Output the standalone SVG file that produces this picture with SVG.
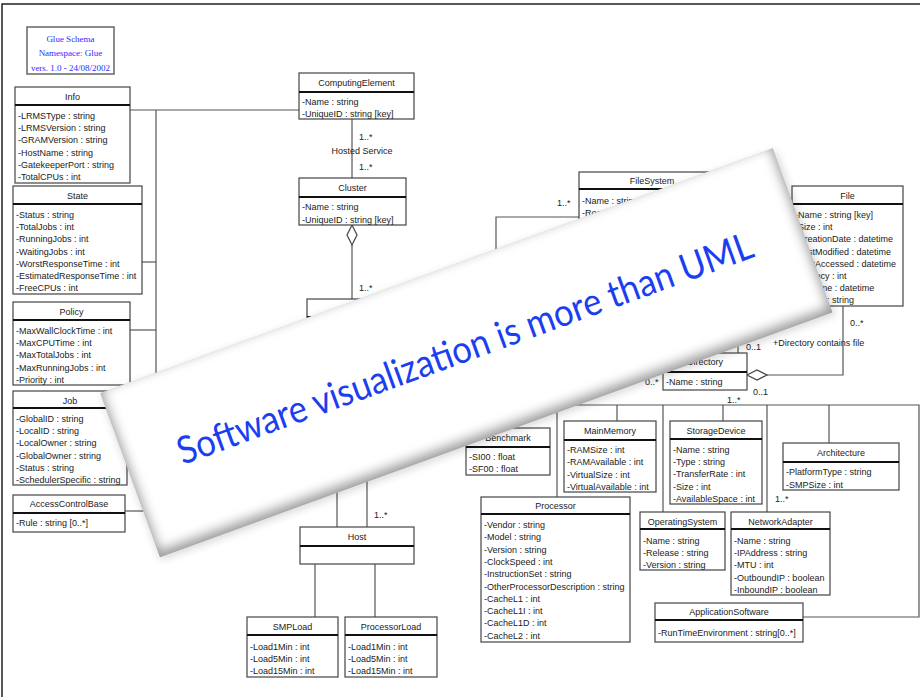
<svg xmlns="http://www.w3.org/2000/svg" width="920" height="697" viewBox="0 0 920 697">
  <defs>
    <style>
      .box { fill: #fff; stroke: #444; stroke-width: 1.2; }
      .hdr { stroke: #111; stroke-width: 2; }
      .t { font-family: "Liberation Sans", Arial, sans-serif; font-size: 9px; fill: #222; }
      .c { text-anchor: middle; }
      .ln { fill: none; stroke: #555; stroke-width: 1.2; }
      .dia { fill: #fff; stroke: #444; stroke-width: 1.2; }
      .glue { font-family: "Liberation Serif", "Times New Roman", serif; font-size: 9px; fill: #2b2bff; text-anchor: middle; }
      .banner-text { font-family: Lato, "Open Sans", "Noto Sans", sans-serif; font-size: 38px; fill: #1b3ef0; }
    </style>
    <clipPath id="bannerClip">
      <rect x="0" y="0" width="716" height="175"/>
    </clipPath>
    <filter id="soft" x="-10%" y="-30%" width="120%" height="160%">
      <feGaussianBlur stdDeviation="6"/>
    </filter>
    <filter id="outer" x="-10%" y="-30%" width="120%" height="160%">
      <feGaussianBlur stdDeviation="4"/>
    </filter>
  </defs>

  <rect x="0" y="0" width="920" height="697" fill="#fff"/>
  <!-- page frame -->
  <path d="M2,697 V4 H920" fill="none" stroke="#222" stroke-width="1.5"/>

  <!-- title block -->
  <g id="glue-title">
    <rect x="27" y="27" width="87" height="47" fill="#fff" stroke="#666" stroke-width="1.5"/>
    <text class="glue" x="70.5" y="42">Glue Schema</text>
    <text class="glue" x="70.5" y="56">Namespace: Glue</text>
    <text class="glue" x="70.5" y="71">vers. 1.0 - 24/08/2002</text>
  </g>

  <!-- associations -->
  <g id="connectors">
    <path class="ln" d="M130,110 H299"/>
    <path class="ln" d="M156,110 V511"/>
    <path class="ln" d="M142,262 H156"/>
    <path class="ln" d="M130,330 H156"/>
    <path class="ln" d="M127,438 H156"/>
    <path class="ln" d="M125,511 H156"/>
    <path class="ln" d="M352,119 V178"/>
    <path class="ln" d="M352,245 V299"/>
    <path class="dia" d="M352,225 L357,235 L352,245 L347,235 Z"/>
    <path class="ln" d="M337,420 V527"/>
    <path class="ln" d="M367,420 V527"/>
    <path class="ln" d="M315,564 V617"/>
    <path class="ln" d="M375,564 V617"/>
    <path class="ln" d="M579,217 H496 V405 H919 V617 H803"/>
    <path class="ln" d="M508,405 V428"/>
    <path class="ln" d="M557,405 V497"/>
    <path class="ln" d="M617,405 V421"/>
    <path class="ln" d="M663,405 V512"/>
    <path class="ln" d="M723,405 V421"/>
    <path class="ln" d="M767,405 V512"/>
    <path class="ln" d="M829,405 V443"/>
    <path class="ln" d="M738,300 V353"/>
    <path class="ln" d="M767,375 H843 V306"/>
    <path class="dia" d="M747,375 L757,370 L767,375 L757,380 Z"/>

    <text class="t" x="359" y="140">1..*</text>
    <text class="t c" x="362" y="154">Hosted Service</text>
    <text class="t" x="359" y="170">1..*</text>
    <text class="t" x="359" y="291">1..*</text>
    <text class="t" x="557" y="206">1..*</text>
    <text class="t" x="374" y="518">1..*</text>
    <text class="t" x="746" y="350">0..1</text>
    <text class="t" x="773" y="346">+Directory contains file</text>
    <text class="t" x="850" y="326">0..*</text>
    <text class="t" x="645" y="385">0..*</text>
    <text class="t" x="753" y="395">0..1</text>
    <text class="t" x="727" y="403">1..*</text>
    <text class="t" x="775" y="502">1..*</text>
  </g>

  <g id="info">
    <rect class="box" x="15" y="87" width="115" height="96"/>
    <line class="hdr" x1="15" y1="105" x2="130" y2="105"/>
    <text class="t c" x="72.5" y="100">Info</text>
    <text class="t" x="18" y="119">-LRMSType : string</text>
    <text class="t" x="18" y="131.2">-LRMSVersion : string</text>
    <text class="t" x="18" y="143.4">-GRAMVersion : string</text>
    <text class="t" x="18" y="155.6">-HostName : string</text>
    <text class="t" x="18" y="167.8">-GatekeeperPort : string</text>
    <text class="t" x="18" y="180">-TotalCPUs : int</text>
  </g>

  <g id="state">
    <rect class="box" x="13" y="186" width="129" height="108"/>
    <line class="hdr" x1="13" y1="204" x2="142" y2="204"/>
    <text class="t c" x="77.5" y="199">State</text>
    <text class="t" x="16" y="218">-Status : string</text>
    <text class="t" x="16" y="230.2">-TotalJobs : int</text>
    <text class="t" x="16" y="242.4">-RunningJobs : int</text>
    <text class="t" x="16" y="254.6">-WaitingJobs : int</text>
    <text class="t" x="16" y="266.8">-WorstResponseTime : int</text>
    <text class="t" x="16" y="279">-EstimatedResponseTime : int</text>
    <text class="t" x="16" y="291.2">-FreeCPUs : int</text>
  </g>

  <g id="policy">
    <rect class="box" x="13" y="302" width="117" height="83"/>
    <line class="hdr" x1="13" y1="320" x2="130" y2="320"/>
    <text class="t c" x="71.5" y="315">Policy</text>
    <text class="t" x="16" y="334">-MaxWallClockTime : int</text>
    <text class="t" x="16" y="346.2">-MaxCPUTime : int</text>
    <text class="t" x="16" y="358.4">-MaxTotalJobs : int</text>
    <text class="t" x="16" y="370.6">-MaxRunningJobs : int</text>
    <text class="t" x="16" y="382.8">-Priority : int</text>
  </g>

  <g id="job">
    <rect class="box" x="13" y="391" width="114" height="94"/>
    <line class="hdr" x1="13" y1="408" x2="127" y2="408"/>
    <text class="t c" x="70" y="404">Job</text>
    <text class="t" x="16" y="422">-GlobalID : string</text>
    <text class="t" x="16" y="434.2">-LocalID : string</text>
    <text class="t" x="16" y="446.4">-LocalOwner : string</text>
    <text class="t" x="16" y="458.6">-GlobalOwner : string</text>
    <text class="t" x="16" y="470.8">-Status : string</text>
    <text class="t" x="16" y="483">-SchedulerSpecific : string</text>
  </g>

  <g id="access-control-base">
    <rect class="box" x="13" y="495" width="112" height="37"/>
    <line class="hdr" x1="13" y1="513" x2="125" y2="513"/>
    <text class="t c" x="69" y="507">AccessControlBase</text>
    <text class="t" x="16" y="526">-Rule : string [0..*]</text>
  </g>

  <g id="computing-element">
    <rect class="box" x="299" y="73" width="115" height="46"/>
    <line class="hdr" x1="299" y1="92" x2="414" y2="92"/>
    <text class="t c" x="356.5" y="86">ComputingElement</text>
    <text class="t" x="302" y="105">-Name : string</text>
    <text class="t" x="302" y="117">-UniqueID : string [key]</text>
  </g>

  <g id="cluster">
    <rect class="box" x="299" y="178" width="107" height="47"/>
    <line class="hdr" x1="299" y1="197" x2="406" y2="197"/>
    <text class="t c" x="352.5" y="191">Cluster</text>
    <text class="t" x="302" y="210">-Name : string</text>
    <text class="t" x="302" y="222.5">-UniqueID : string [key]</text>
  </g>

  <g id="sub-cluster">
    <rect class="box" x="307" y="299" width="95" height="50"/>
    <line class="hdr" x1="307" y1="317" x2="402" y2="317"/>
  </g>

  <g id="file-system">
    <rect class="box" x="579" y="172" width="146" height="80"/>
    <line class="hdr" x1="579" y1="189" x2="725" y2="189"/>
    <text class="t c" x="652" y="184">FileSystem</text>
    <text class="t" x="582" y="204">-Name : string</text>
    <text class="t" x="582" y="216">-Root : string</text>
  </g>

  <g id="file">
    <rect class="box" x="792" y="186" width="111" height="120"/>
    <line class="hdr" x1="792" y1="204" x2="903" y2="204"/>
    <text class="t c" x="847.5" y="199">File</text>
    <text class="t" x="795" y="218">-Name : string [key]</text>
    <text class="t" x="795" y="230.2">-Size : int</text>
    <text class="t" x="795" y="242.4">-CreationDate : datetime</text>
    <text class="t" x="795" y="254.6">-LastModified : datetime</text>
    <text class="t" x="795" y="266.8">-LastAccessed : datetime</text>
    <text class="t" x="795" y="279">-Latency : int</text>
    <text class="t" x="795" y="291.2">-LifeTime : datetime</text>
    <text class="t" x="795" y="303.4">-Owner : string</text>
  </g>

  <g id="directory">
    <rect class="box" x="663" y="353" width="84" height="37"/>
    <line class="hdr" x1="663" y1="372" x2="747" y2="372"/>
    <text class="t c" x="705" y="365">Directory</text>
    <text class="t" x="666" y="385">-Name : string</text>
  </g>

  <g id="benchmark">
    <rect class="box" x="466" y="428" width="84" height="47"/>
    <line class="hdr" x1="466" y1="447" x2="550" y2="447"/>
    <text class="t c" x="508" y="441">Benchmark</text>
    <text class="t" x="469" y="460">-SI00 : float</text>
    <text class="t" x="469" y="472">-SF00 : float</text>
  </g>

  <g id="main-memory">
    <rect class="box" x="564" y="421" width="92" height="71"/>
    <line class="hdr" x1="564" y1="440" x2="656" y2="440"/>
    <text class="t c" x="610" y="434">MainMemory</text>
    <text class="t" x="567" y="453">-RAMSize : int</text>
    <text class="t" x="567" y="465.3">-RAMAvailable : int</text>
    <text class="t" x="567" y="477.6">-VirtualSize : int</text>
    <text class="t" x="567" y="490">-VirtualAvailable : int</text>
  </g>

  <g id="storage-device">
    <rect class="box" x="670" y="421" width="92" height="83"/>
    <line class="hdr" x1="670" y1="439" x2="762" y2="439"/>
    <text class="t c" x="716" y="434">StorageDevice</text>
    <text class="t" x="673" y="453">-Name : string</text>
    <text class="t" x="673" y="465.2">-Type : string</text>
    <text class="t" x="673" y="477.4">-TransferRate : int</text>
    <text class="t" x="673" y="489.6">-Size : int</text>
    <text class="t" x="673" y="501.8">-AvailableSpace : int</text>
  </g>

  <g id="architecture">
    <rect class="box" x="783" y="443" width="116" height="47"/>
    <line class="hdr" x1="783" y1="462" x2="899" y2="462"/>
    <text class="t c" x="841" y="456">Architecture</text>
    <text class="t" x="786" y="475">-PlatformType : string</text>
    <text class="t" x="786" y="488">-SMPSize : int</text>
  </g>

  <g id="processor">
    <rect class="box" x="481" y="497" width="149" height="145"/>
    <line class="hdr" x1="481" y1="514" x2="630" y2="514"/>
    <text class="t c" x="555.5" y="509">Processor</text>
    <text class="t" x="484" y="528">-Vendor : string</text>
    <text class="t" x="484" y="540.3">-Model : string</text>
    <text class="t" x="484" y="552.6">-Version : string</text>
    <text class="t" x="484" y="564.9">-ClockSpeed : int</text>
    <text class="t" x="484" y="577.2">-InstructionSet : string</text>
    <text class="t" x="484" y="589.5">-OtherProcessorDescription : string</text>
    <text class="t" x="484" y="601.8">-CacheL1 : int</text>
    <text class="t" x="484" y="614.1">-CacheL1I : int</text>
    <text class="t" x="484" y="626.4">-CacheL1D : int</text>
    <text class="t" x="484" y="638.7">-CacheL2 : int</text>
  </g>

  <g id="operating-system">
    <rect class="box" x="640" y="512" width="85" height="58"/>
    <line class="hdr" x1="640" y1="529" x2="725" y2="529"/>
    <text class="t c" x="682.5" y="525">OperatingSystem</text>
    <text class="t" x="643" y="544">-Name : string</text>
    <text class="t" x="643" y="556">-Release : string</text>
    <text class="t" x="643" y="568">-Version : string</text>
  </g>

  <g id="network-adapter">
    <rect class="box" x="731" y="512" width="99" height="83"/>
    <line class="hdr" x1="731" y1="529" x2="830" y2="529"/>
    <text class="t c" x="780.5" y="525">NetworkAdapter</text>
    <text class="t" x="734" y="544">-Name : string</text>
    <text class="t" x="734" y="556.2">-IPAddress : string</text>
    <text class="t" x="734" y="568.4">-MTU : int</text>
    <text class="t" x="734" y="580.6">-OutboundIP : boolean</text>
    <text class="t" x="734" y="592.8">-InboundIP : boolean</text>
  </g>

  <g id="application-software">
    <rect class="box" x="655" y="603" width="148" height="39"/>
    <line class="hdr" x1="655" y1="620" x2="803" y2="620"/>
    <text class="t c" x="729" y="615">ApplicationSoftware</text>
    <text class="t" x="658" y="636">-RunTimeEnvironment : string[0..*]</text>
  </g>

  <g id="host">
    <rect class="box" x="300" y="527" width="114" height="37"/>
    <line class="hdr" x1="300" y1="546" x2="414" y2="546"/>
    <text class="t c" x="357" y="540">Host</text>
  </g>

  <g id="smp-load">
    <rect class="box" x="247" y="617" width="91" height="60"/>
    <line class="hdr" x1="247" y1="635" x2="338" y2="635"/>
    <text class="t c" x="292.5" y="630">SMPLoad</text>
    <text class="t" x="250" y="650">-Load1Min : int</text>
    <text class="t" x="250" y="662">-Load5Min : int</text>
    <text class="t" x="250" y="674">-Load15Min : int</text>
  </g>

  <g id="processor-load">
    <rect class="box" x="345" y="617" width="92" height="60"/>
    <line class="hdr" x1="345" y1="635" x2="437" y2="635"/>
    <text class="t c" x="391" y="630">ProcessorLoad</text>
    <text class="t" x="348" y="650">-Load1Min : int</text>
    <text class="t" x="348" y="662">-Load5Min : int</text>
    <text class="t" x="348" y="674">-Load15Min : int</text>
  </g>

  <!-- tilted caption card laid over the class diagram -->
  <g id="caption-card" transform="translate(100,393) rotate(-20)">
    <rect x="0" y="3" width="718" height="175" fill="#000" opacity="0.15" filter="url(#outer)"/>
    <g clip-path="url(#bannerClip)">
      <rect x="0" y="0" width="716" height="175" fill="#9a9a9a"/>
      <rect x="2" y="-4" width="712" height="173" fill="#fff" filter="url(#soft)"/>
    </g>
    <text class="banner-text" x="358" y="96" text-anchor="middle" textLength="610" lengthAdjust="spacingAndGlyphs">Software visualization is more than UML</text>
  </g>
</svg>
